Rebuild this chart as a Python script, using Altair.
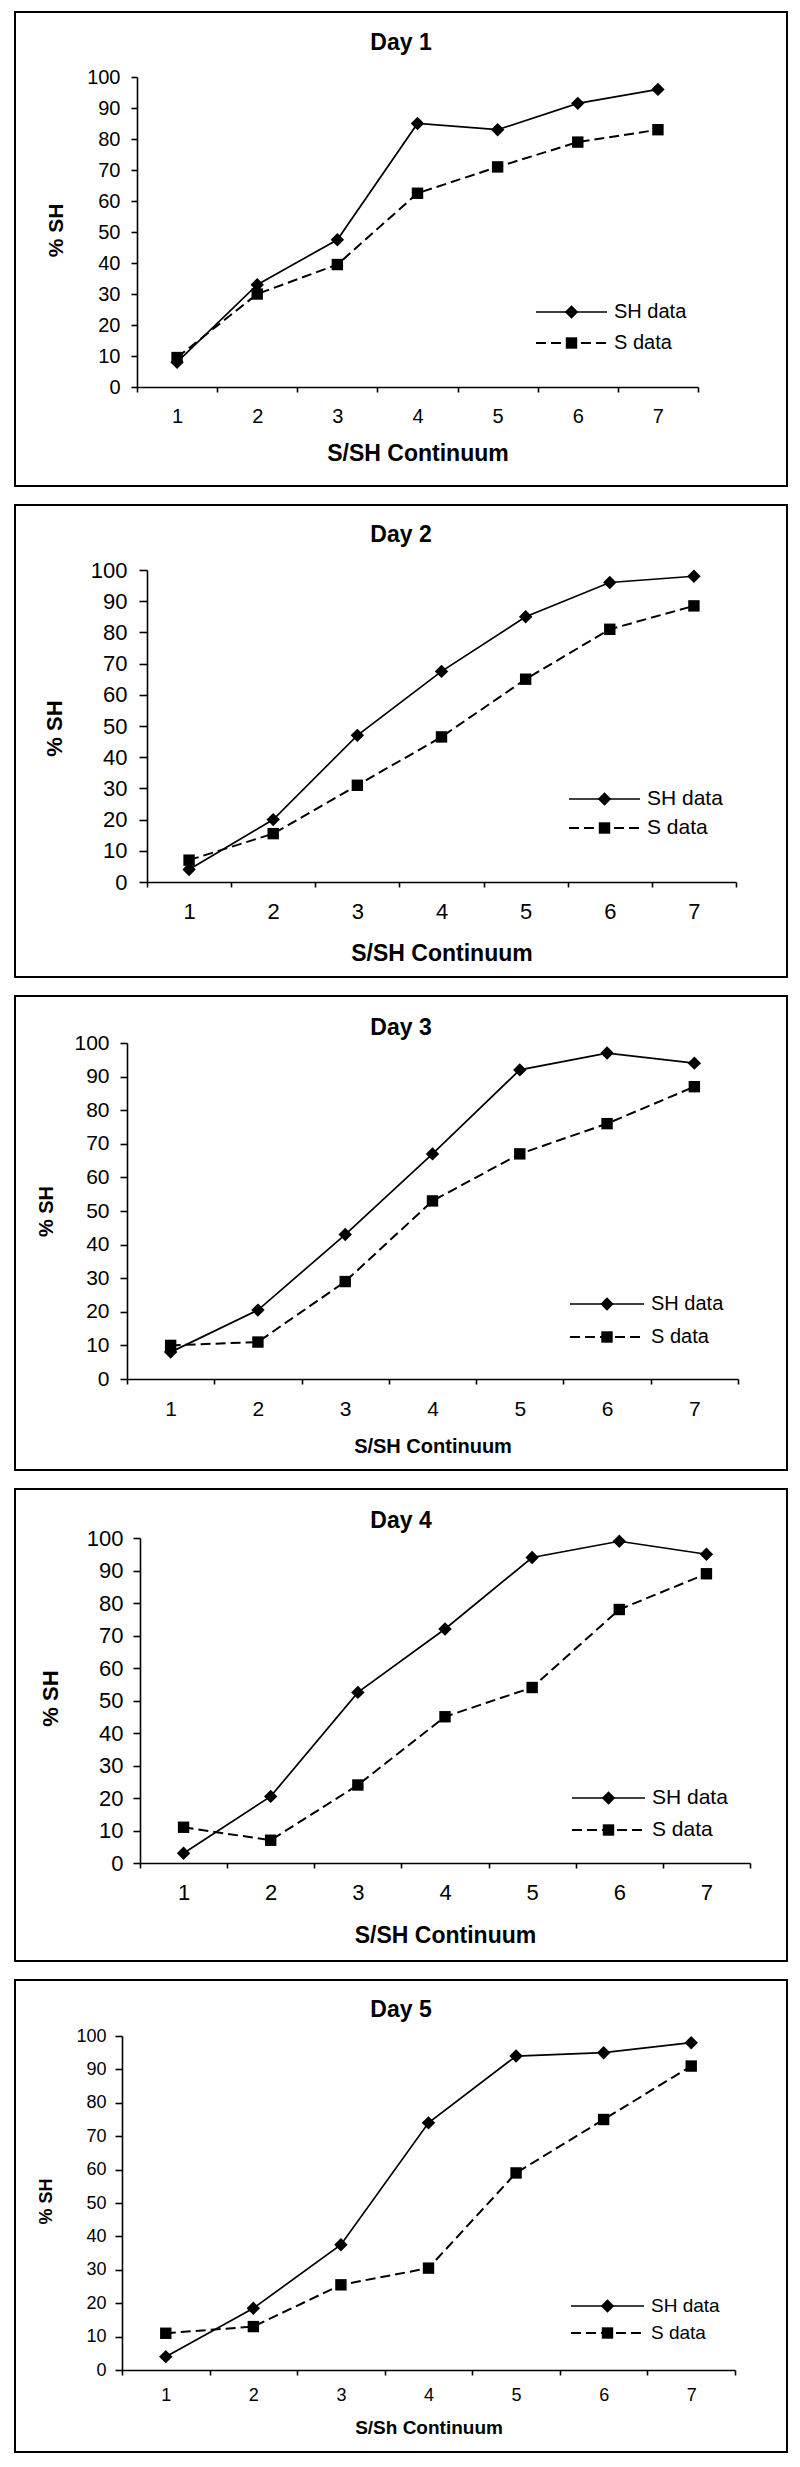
import altair as alt
import pandas as pd

# ---------------- data ----------------
categories = [1, 2, 3, 4, 5, 6, 7]

day1_sh = [8, 33, 47.5, 85, 83, 91.5, 96]
day1_s = [9.5, 30, 39.5, 62.5, 71, 79, 83]

day2_sh = [4, 20, 47, 67.5, 85, 96, 98]
day2_s = [7, 15.5, 31, 46.5, 65, 81, 88.5]

day3_sh = [8, 20.5, 43, 67, 92, 97, 94]
day3_s = [10, 11, 29, 53, 67, 76, 87]

day4_sh = [3, 20.5, 52.5, 72, 94, 99, 95]
day4_s = [11, 7, 24, 45, 54, 78, 89]

day5_sh = [4, 18.5, 37.5, 74, 94, 95, 98]
day5_s = [11, 13, 25.5, 30.5, 59, 75, 91]

titles = ["Day 1", "Day 2", "Day 3", "Day 4", "Day 5"]
x_titles = ["S/SH Continuum", "S/SH Continuum", "S/SH Continuum", "S/SH Continuum", "S/Sh Continuum"]
y_title = "% SH"
series_names = ["SH data", "S data"]
y_ticks = [0, 10, 20, 30, 40, 50, 60, 70, 80, 90, 100]

all_sh = [day1_sh, day2_sh, day3_sh, day4_sh, day5_sh]
all_s = [day1_s, day2_s, day3_s, day4_s, day5_s]

# ---------------- layout / style (pixels, relative to each frame) ----------------
FONT = "Liberation Sans, Arial, Helvetica, sans-serif"
BOX_W = 772

# BH: frame height; L/T: plot-area offset inside the frame; W/H: plot-area size
layouts = [
    dict(BH=474, W=561, H=310, L=122, T=65, tick=20, ttl=23, xt=23, yt=21, lab=20,
         ty=-34, ytx=-81, yty=153, xty=66, lx0=399, lx1=470, ly0=235, ly1=266,
         ylp=11, ytk=6, xlp=14),
    dict(BH=472, W=589, H=312, L=132, T=65, tick=22, ttl=23, xt=23, yt=22, lab=21,
         ty=-35, ytx=-93, yty=158, xty=71, lx0=422, lx1=493, ly0=229, ly1=258,
         ylp=12, ytk=8, xlp=14),
    dict(BH=474, W=611, H=336, L=112, T=47, tick=21, ttl=23, xt=20, yt=20, lab=20,
         ty=-15, ytx=-81, yty=168, xty=67, lx0=443, lx1=517, ly0=261, ly1=294,
         ylp=11, ytk=7, xlp=14),
    dict(BH=472, W=610, H=325, L=125, T=49, tick=22, ttl=23, xt=23, yt=22, lab=21,
         ty=-17, ytx=-90, yty=160, xty=72, lx0=432, lx1=505, ly0=260, ly1=292,
         ylp=10, ytk=7, xlp=14),
    dict(BH=472, W=613, H=334, L=107, T=56, tick=18, ttl=23, xt=19, yt=18, lab=19,
         ty=-26, ytx=-76, yty=165, xty=57, lx0=449, lx1=522, ly0=270, ly1=297,
         ylp=9, ytk=7, xlp=11),
]

DASH = [10, 5]
SQ = 130
DI = 180
one = pd.DataFrame({"k": [0]})


def panel(i):
    lay = layouts[i]
    W, H, L, T, BH = lay["W"], lay["H"], lay["L"], lay["T"], lay["BH"]
    B = BH - T - H
    df = pd.DataFrame({
        "x": categories + categories,
        "y": all_sh[i] + all_s[i],
        "series": [series_names[0]] * 7 + [series_names[1]] * 7,
    })
    xenc = alt.X(
        "x:O",
        scale=alt.Scale(range=[L, L + W], paddingInner=0, paddingOuter=0),
        axis=alt.Axis(
            title=x_titles[i], labelAngle=0, tickBand="extent", offset=-B,
            labelFontSize=lay["tick"], labelPadding=lay["xlp"], tickSize=5,
            titleFontSize=lay["xt"], titleFontWeight="bold",
            titleX=L + W / 2, titleY=lay["xty"], titleBaseline="middle",
            titleAlign="center",
        ),
    )
    yenc = alt.Y(
        "y:Q",
        scale=alt.Scale(domain=[0, 100], nice=False, range=[T + H, T]),
        axis=alt.Axis(
            title=y_title, values=y_ticks, labelFontSize=lay["tick"], offset=-L,
            labelPadding=lay["ylp"], tickSize=lay["ytk"],
            titleFontSize=lay["yt"], titleFontWeight="bold",
            titleX=lay["ytx"], titleY=T + lay["yty"], titleBaseline="middle",
            titleAlign="center",
        ),
    )
    base = alt.Chart(df)
    sh = base.transform_filter(alt.datum.series == series_names[0])
    s = base.transform_filter(alt.datum.series == series_names[1])

    s_line = s.mark_line(color="black", strokeWidth=2, strokeDash=DASH).encode(x=xenc, y=yenc)
    s_pts = s.mark_point(shape="square", filled=True, size=SQ, color="black", opacity=1).encode(x=xenc, y=yenc)
    sh_line = sh.mark_line(color="black", strokeWidth=1.7).encode(x=xenc, y=yenc)
    sh_pts = sh.mark_point(shape="diamond", filled=True, size=DI, color="black", opacity=1).encode(x=xenc, y=yenc)

    # title inside the frame
    title = alt.Chart(one).mark_text(
        font=FONT, fontSize=lay["ttl"], fontWeight="bold", color="black",
        align="center", baseline="middle",
    ).encode(x=alt.value(BOX_W / 2), y=alt.value(T + lay["ty"]), text=alt.value(titles[i]))

    # legend (Excel style, inside the frame)
    lx0, lx1 = L + lay["lx0"], L + lay["lx1"]
    mx = (lx0 + lx1) / 2
    leg = []
    for j, (ly, shape, size, dash) in enumerate([
        (T + lay["ly0"], "diamond", DI, None),
        (T + lay["ly1"], "square", SQ, DASH),
    ]):
        rule_kw = dict(color="black", strokeWidth=2 if dash else 1.7)
        if dash:
            rule_kw["strokeDash"] = dash
        leg.append(alt.Chart(one).mark_rule(**rule_kw).encode(
            x=alt.value(lx0), x2=alt.value(lx1), y=alt.value(ly)))
        leg.append(alt.Chart(one).mark_point(
            shape=shape, filled=True, size=size, color="black", opacity=1
        ).encode(x=alt.value(mx), y=alt.value(ly)))
        leg.append(alt.Chart(one).mark_text(
            font=FONT, fontSize=lay["lab"], color="black", align="left", baseline="middle"
        ).encode(x=alt.value(lx1 + 7), y=alt.value(ly), text=alt.value(series_names[j])))

    return alt.layer(s_line, sh_line, s_pts, sh_pts, title, *leg).properties(width=BOX_W, height=BH)


chart = alt.vconcat(*[panel(i) for i in range(5)], spacing=17).properties(
    padding={"left": 6, "top": 3, "right": 0, "bottom": 0}
).configure_view(stroke="black", strokeWidth=2).configure_axis(
    grid=False, domainColor="black", domainWidth=1.6, tickColor="black", tickWidth=1.6,
    labelColor="black", titleColor="black", labelFont=FONT, titleFont=FONT,
)

chart.save("out.html", embed_options={"renderer": "svg", "actions": False})
